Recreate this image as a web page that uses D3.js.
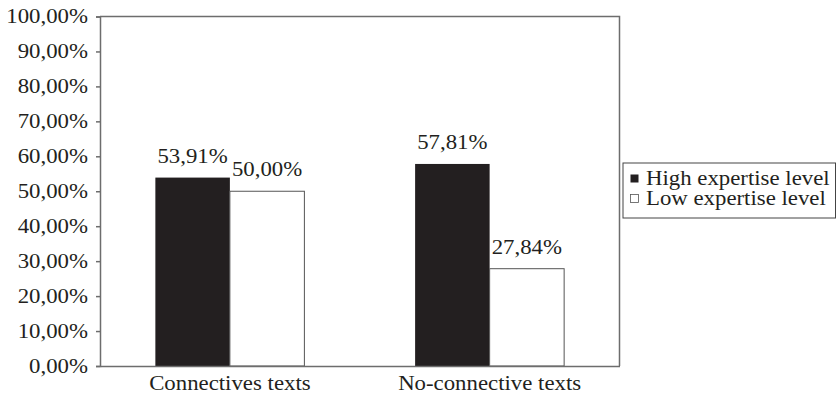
<!DOCTYPE html>
<html>
<head>
<meta charset="utf-8">
<script src="https://cdn.jsdelivr.net/npm/d3@7"></script>
<style>
  html, body { margin: 0; padding: 0; background: #fff; }
  svg { display: block; }
</style>
</head>
<body>
<svg id="chart" width="837" height="398"></svg>
<script>
// Share of correct answers by text type and expertise level
const categories = ["Connectives texts", "No-connective texts"];
const seriesNames = ["High expertise level", "Low expertise level"];
const highValues = [53.91, 57.81];
const lowValues = [50.00, 27.84];
const yTicks = [0, 10, 20, 30, 40, 50, 60, 70, 80, 90, 100];

const fmt = v => v.toFixed(2).replace(".", ",") + "%";

const svg = d3.select("#chart");
const plot = { left: 100, right: 619.5, top: 16.5, bottom: 366 };
const fontFamily = "'Liberation Serif'";
const fontSize = 20;
const widen = 1.14;   // the typeface used is a little wider than Times
const dark = "#231f20";
const lineCol = "#6d6d6d";

function styleText(sel) {
  sel.style("font-family", fontFamily)
    .style("font-size", fontSize + "px")
    .attr("fill", dark)
    .each(function () {
      const w = this.getComputedTextLength();
      d3.select(this)
        .attr("textLength", w * widen)
        .attr("lengthAdjust", "spacingAndGlyphs");
    });
}

const x0 = d3.scaleBand()
  .domain(categories)
  .range([plot.left, plot.right])
  .paddingInner(0)
  .paddingOuter(0);

const x1 = d3.scaleBand()
  .domain(seriesNames)
  .range([0, x0.bandwidth()])
  .paddingInner(0)
  .paddingOuter(0.743);

const y = d3.scaleLinear().domain([0, 100]).range([plot.bottom, plot.top]);

const colours = { "High expertise level": dark, "Low expertise level": "#ffffff" };

const rows = categories.map((c, i) => ({
  cat: c,
  vals: [
    { s: seriesNames[0], v: highValues[i] },
    { s: seriesNames[1], v: lowValues[i] }
  ]
}));

// bars
const groups = svg.append("g").selectAll("g")
  .data(rows).join("g")
  .attr("transform", d => `translate(${x0(d.cat)},0)`);

groups.selectAll("rect")
  .data(d => d.vals).join("rect")
  .attr("x", d => x1(d.s))
  .attr("y", d => y(d.v))
  .attr("width", x1.bandwidth())
  .attr("height", d => y(0) - y(d.v))
  .attr("fill", d => colours[d.s])
  .attr("stroke", d => d.s === seriesNames[0] ? "none" : "#555")
  .attr("stroke-width", 1);

// value labels above each bar
groups.selectAll("text.val")
  .data(d => d.vals).join("text")
  .attr("class", "val")
  .attr("x", d => x1(d.s) + x1.bandwidth() / 2)
  .attr("y", d => y(d.v) - 15)
  .attr("text-anchor", "middle")
  .text(d => fmt(d.v))
  .call(styleText);

// plot frame: top and right edges
svg.append("path")
  .attr("d", `M${plot.left},${plot.top}H${plot.right}V${plot.bottom}`)
  .attr("fill", "none")
  .attr("stroke", lineCol)
  .attr("stroke-width", 1.5);

// y axis
const yAxis = svg.append("g")
  .attr("transform", `translate(${plot.left},0)`)
  .call(d3.axisLeft(y).tickValues(yTicks).tickSize(4).tickPadding(8).tickFormat(v => fmt(v)));
yAxis.select(".domain").attr("stroke", lineCol).attr("stroke-width", 1.5);
yAxis.selectAll(".tick line").attr("stroke", lineCol).attr("stroke-width", 1.5);
yAxis.selectAll(".tick text").call(styleText);

// x axis
const xAxis = svg.append("g")
  .attr("transform", `translate(0,${plot.bottom})`)
  .call(d3.axisBottom(x0).tickSize(0).tickPadding(10));
xAxis.select(".domain").attr("stroke", lineCol).attr("stroke-width", 1.5);
xAxis.selectAll(".tick text").call(styleText);

// legend
const legend = svg.append("g");
legend.append("rect")
  .attr("x", 623).attr("y", 163)
  .attr("width", 212.5).attr("height", 55)
  .attr("fill", "#fff")
  .attr("stroke", "#444")
  .attr("stroke-width", 1);

const items = legend.selectAll("g.item")
  .data(seriesNames).join("g")
  .attr("class", "item")
  .attr("transform", (d, i) => `translate(630,${185 + i * 20})`);

items.append("rect")
  .attr("x", 0.5).attr("y", -10.5)
  .attr("width", 8).attr("height", 8)
  .attr("fill", d => colours[d])
  .attr("stroke", d => d === seriesNames[0] ? "none" : "#555")
  .attr("stroke-width", 0.8);

items.append("text")
  .attr("x", 16).attr("y", 0)
  .text(d => d)
  .call(styleText);
</script>
</body>
</html>
